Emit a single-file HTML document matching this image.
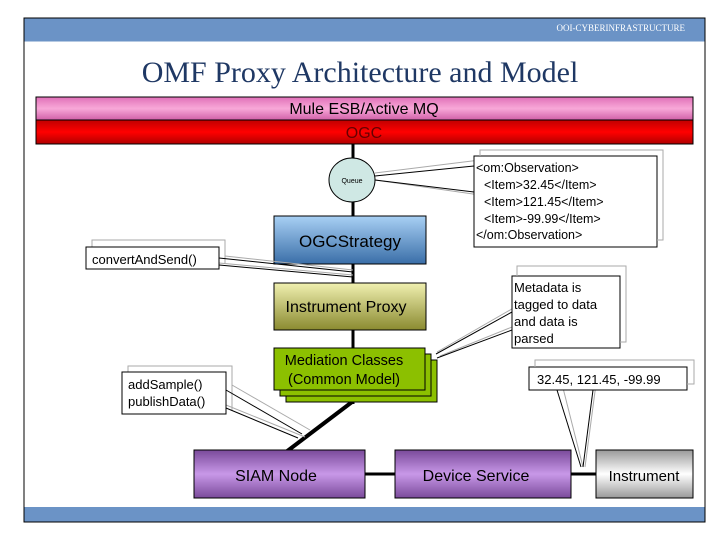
<!DOCTYPE html>
<html><head><meta charset="utf-8"><style>
body{margin:0;width:720px;height:540px;background:#fff;overflow:hidden}
svg{display:block}
text{font-family:"Liberation Sans",sans-serif}
</style></head><body>
<svg width="720" height="540" viewBox="0 0 720 540">
<defs>
<linearGradient id="pink" x1="0" y1="0" x2="0" y2="1"><stop offset="0" stop-color="#e070b8"/><stop offset="0.5" stop-color="#f8a8d8"/><stop offset="1" stop-color="#d060a8"/></linearGradient>
<linearGradient id="red" x1="0" y1="0" x2="0" y2="1"><stop offset="0" stop-color="#c00000"/><stop offset="0.5" stop-color="#ff0000"/><stop offset="1" stop-color="#b00000"/></linearGradient>
<linearGradient id="blue" x1="0" y1="0" x2="0" y2="1"><stop offset="0" stop-color="#a8d0f4"/><stop offset="1" stop-color="#3a6ea8"/></linearGradient>
<linearGradient id="olive" x1="0" y1="0" x2="0" y2="1"><stop offset="0" stop-color="#f0f0b0"/><stop offset="1" stop-color="#8a8a30"/></linearGradient>
<linearGradient id="purp" x1="0" y1="0" x2="0" y2="1"><stop offset="0" stop-color="#7a4a9a"/><stop offset="0.5" stop-color="#c898e8"/><stop offset="1" stop-color="#7a4a9a"/></linearGradient>
<linearGradient id="gray" x1="0" y1="0" x2="0" y2="1"><stop offset="0" stop-color="#999"/><stop offset="0.5" stop-color="#fff"/><stop offset="1" stop-color="#999"/></linearGradient>
</defs>
<rect x="24" y="18" width="681" height="504" fill="#fff" stroke="#000"/>
<rect x="24.5" y="18.5" width="680" height="23" fill="#6b93c6"/>
<text x="685" y="31" text-anchor="end" font-size="9" fill="#fff" style="font-family:'Liberation Serif',serif">OOI-CYBERINFRASTRUCTURE</text>
<rect x="24.5" y="507" width="680" height="14.5" fill="#6b93c6"/>
<text x="360" y="82" text-anchor="middle" font-size="30" fill="#1f3864" style="font-family:'Liberation Serif',serif">OMF Proxy Architecture and Model</text>
<rect x="36" y="97" width="657" height="23" fill="url(#pink)" stroke="#000"/>
<text x="364" y="114" text-anchor="middle" font-size="16">Mule ESB/Active MQ</text>
<rect x="36" y="120" width="657" height="24" fill="url(#red)" stroke="#000"/>
<text x="364" y="138" text-anchor="middle" font-size="16" fill="#600">OGC</text>
<line x1="353" y1="144" x2="353" y2="404" stroke="#000" stroke-width="3"/>
<line x1="352" y1="402" x2="286" y2="452" stroke="#000" stroke-width="4"/>
<polyline points="480,150 663,150 663,240 480,240" fill="none" stroke="#aaa"/>
<line x1="375" y1="173" x2="480" y2="160" stroke="#aaa"/><line x1="375" y1="180" x2="480" y2="195" stroke="#aaa"/>
<line x1="375" y1="176" x2="474" y2="166" stroke="#000"/><line x1="375" y1="180" x2="474" y2="192" stroke="#000"/>
<ellipse cx="352" cy="180" rx="23" ry="22" fill="#cfe8e4" stroke="#000"/>
<text x="352" y="183" text-anchor="middle" font-size="7">Queue</text>
<rect x="474" y="156" width="183" height="91" fill="#fff" stroke="#000"/>
<polyline points="480,156 480,150 663,150 663,240 657,240" fill="none" stroke="#aaa"/>
<g font-size="12.5"><text x="476" y="172">&lt;om:Observation&gt;</text><text x="484" y="189">&lt;Item&gt;32.45&lt;/Item&gt;</text><text x="484" y="206">&lt;Item&gt;121.45&lt;/Item&gt;</text><text x="484" y="223">&lt;Item&gt;-99.99&lt;/Item&gt;</text><text x="476" y="239">&lt;/om:Observation&gt;</text></g>
<rect x="274" y="216" width="152" height="48" fill="url(#blue)" stroke="#000"/>
<text x="350" y="247" text-anchor="middle" font-size="17">OGCStrategy</text>
<polyline points="92,247 92,240 225,240 225,263" fill="none" stroke="#aaa"/>
<line x1="225" y1="256" x2="353" y2="270" stroke="#aaa"/><line x1="219" y1="263" x2="353" y2="275" stroke="#aaa"/>
<line x1="219" y1="258" x2="353" y2="272" stroke="#000"/><line x1="219" y1="265" x2="353" y2="277" stroke="#000"/>
<rect x="86" y="247" width="133" height="22" fill="#fff" stroke="#000"/>
<text x="92" y="264" font-size="13">convertAndSend()</text>
<rect x="274" y="283" width="152" height="47" fill="url(#olive)" stroke="#000"/>
<text x="346" y="312" text-anchor="middle" font-size="16">Instrument Proxy</text>
<line x1="437" y1="352" x2="517" y2="306" stroke="#aaa"/><line x1="440" y1="356" x2="517" y2="325" stroke="#aaa"/>
<line x1="436" y1="354" x2="512" y2="312" stroke="#000"/><line x1="437" y1="358" x2="512" y2="330" stroke="#000"/>
<rect x="512" y="276" width="108" height="72" fill="#fff" stroke="#000"/>
<polyline points="517,276 517,266 626,266 626,342 620,342" fill="none" stroke="#aaa"/>
<g font-size="13"><text x="514" y="292">Metadata is</text><text x="514" y="309">tagged to data</text><text x="514" y="326">and data is</text><text x="514" y="343">parsed</text></g>
<rect x="286" y="360" width="151" height="42" fill="#8cc000" stroke="#000"/>
<rect x="280" y="354" width="151" height="42" fill="#8cc000" stroke="#000"/>
<rect x="274" y="348" width="151" height="42" fill="#8cc000" stroke="#000"/>
<text x="344" y="365" text-anchor="middle" font-size="14.5" fill="#000">Mediation Classes</text>
<text x="344" y="384" text-anchor="middle" font-size="14.5" fill="#000">(Common Model)</text>
<polyline points="128,372 128,366 232,366 232,410" fill="none" stroke="#aaa"/>
<line x1="232" y1="385" x2="310" y2="430" stroke="#aaa"/><line x1="226" y1="405" x2="305" y2="437" stroke="#aaa"/>
<line x1="226" y1="390" x2="302" y2="434" stroke="#000"/><line x1="226" y1="408" x2="298" y2="438" stroke="#000"/>
<rect x="122" y="372" width="104" height="42" fill="#fff" stroke="#000"/>
<text x="128" y="389" font-size="13">addSample()</text><text x="128" y="406" font-size="13">publishData()</text>
<line x1="365" y1="474" x2="395" y2="474" stroke="#000" stroke-width="3"/>
<line x1="571" y1="474" x2="596" y2="474" stroke="#000" stroke-width="3"/>
<rect x="194" y="450" width="171" height="48" fill="url(#purp)" stroke="#000"/>
<text x="276" y="481" text-anchor="middle" font-size="16">SIAM Node</text>
<rect x="395" y="450" width="176" height="48" fill="url(#purp)" stroke="#000"/>
<text x="476" y="481" text-anchor="middle" font-size="16">Device Service</text>
<rect x="596" y="450" width="97" height="48" fill="url(#gray)" stroke="#000"/>
<text x="644" y="481" text-anchor="middle" font-size="15">Instrument</text>
<line x1="562" y1="384" x2="583" y2="467" stroke="#aaa"/><line x1="596" y1="384" x2="585" y2="467" stroke="#aaa"/>
<line x1="557" y1="390" x2="581" y2="467" stroke="#000"/><line x1="593" y1="390" x2="583" y2="467" stroke="#000"/>
<rect x="529" y="367" width="158" height="23" fill="#fff" stroke="#000"/>
<polyline points="535,367 535,360 694,360 694,384 687,384" fill="none" stroke="#aaa"/>
<text x="537" y="384" font-size="13">32.45, 121.45, -99.99</text>
</svg>
</body></html>
